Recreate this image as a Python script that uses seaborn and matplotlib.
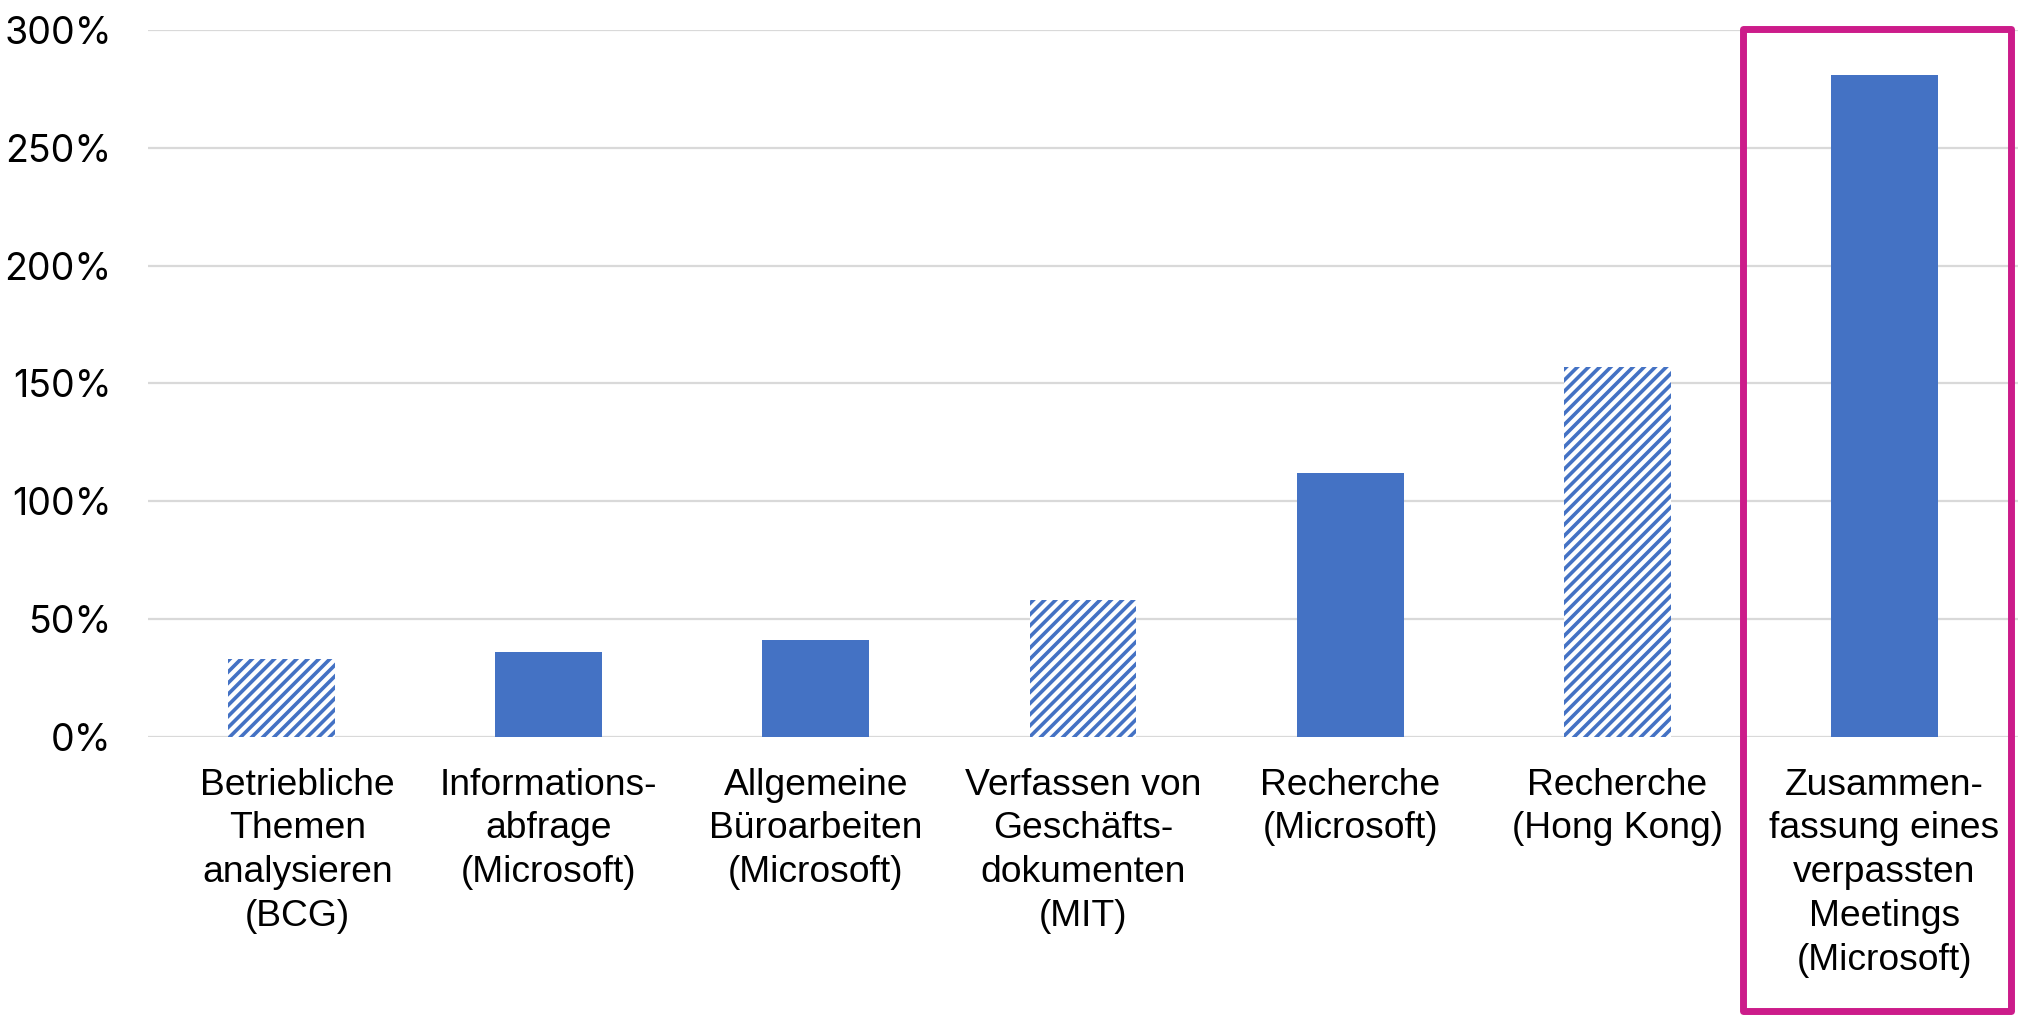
import matplotlib
matplotlib.use('Agg')
import matplotlib.pyplot as plt
import matplotlib.transforms as mtransforms
from matplotlib.patches import Rectangle
import seaborn as sns

# ─────────────────────────────────────────────
# DATA
# ─────────────────────────────────────────────
categories = [
    'Betriebliche\nThemen\nanalysieren\n(BCG)',
    'Informations-\nabfrage\n(Microsoft)',
    'Allgemeine\nBüroarbeiten\n(Microsoft)',
    'Verfassen von\nGeschäfts-\ndokumenten\n(MIT)',
    'Recherche\n(Microsoft)',
    'Recherche\n(Hong Kong)',
    'Zusammen-\nfassung eines\nverpassten\nMeetings\n(Microsoft)',
]
values = [33, 36, 41, 58, 112, 157, 281]
hatched = [True, False, False, True, False, True, False]
y_ticks = [0, 50, 100, 150, 200, 250, 300]
highlight_index = 6

BLUE = '#4472C4'
MAGENTA = '#CC1C8A'

sns.set_style('white')
plt.rcParams['hatch.linewidth'] = 1.3

fig = plt.figure(figsize=(10.09, 5.08), dpi=200)
ax = fig.add_axes([0.0733, 0.2746, 0.9267, 0.696])

sns.barplot(x=categories, y=values, color=BLUE, width=0.4, saturation=1, ax=ax, zorder=3)

for patch, h in zip(ax.patches, hatched):
    patch.set_linewidth(0)
    if h:
        patch.set_facecolor('white')
        patch.set_edgecolor(BLUE)
        patch.set_hatch('//////')

ax.set_xlim(-0.5, len(categories) - 0.5)
ax.set_ylim(0, 300)
ax.set_yticks(y_ticks)
ax.set_yticklabels([f'{t}%' for t in y_ticks], fontsize=13.5, family='Inter', color='black')
ax.set_xticks(range(len(categories)))
ax.set_xticklabels(categories, fontsize=13.4, family='Liberation Sans',
                   linespacing=1.33, va='top', color='black')
ax.grid(axis='y', color='#D9D9D9', linewidth=0.8, zorder=0)
ax.set_axisbelow(True)
for s in ax.spines.values():
    s.set_visible(False)
ax.tick_params(axis='y', length=0, pad=13)
ax.tick_params(axis='x', length=0, pad=11)
ax.set_xlabel('')
ax.set_ylabel('')

# first label sits a little right of its bar in the original
first = ax.get_xticklabels()[0]
first.set_transform(first.get_transform() + mtransforms.ScaledTranslation(0.08, 0, fig.dpi_scale_trans))

# highlight box around last category
trans = mtransforms.blended_transform_factory(ax.transData, fig.transFigure)
box = Rectangle((highlight_index - 0.53, 0.005), 1.005, 0.966, transform=trans,
                fill=False, edgecolor=MAGENTA, linewidth=2.5, clip_on=False,
                joinstyle='round', zorder=5)
fig.add_artist(box)

fig.savefig('out.png', dpi=200, facecolor='white')
